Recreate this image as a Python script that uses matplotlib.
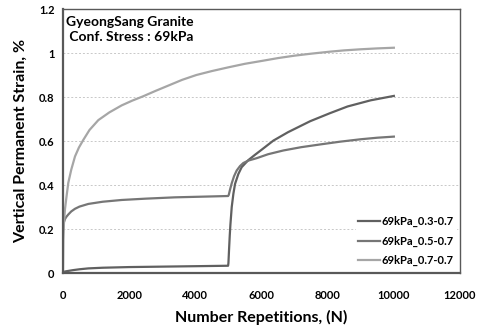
import matplotlib
matplotlib.use("Agg")
import matplotlib.pyplot as plt

plt.rcParams["font.family"] = ["Lato", "DejaVu Sans"]

# 69kPa_0.3-0.7 (low first stage, steep rise after 5000 cycles)
n_03 = [0, 100, 300, 500, 766, 1200, 2000, 3000, 4000, 4990, 5000, 5020, 5040, 5060,
        5100, 5150, 5200, 5300, 5400, 5600, 5800, 6000, 6360, 6800, 7470, 8060, 8600,
        9300, 10000]
s_03 = [0.005, 0.008, 0.013, 0.017, 0.021, 0.024, 0.027, 0.029, 0.031, 0.033, 0.045,
        0.11, 0.17, 0.22, 0.30, 0.36, 0.405, 0.45, 0.481, 0.513, 0.537, 0.56, 0.602,
        0.64, 0.69, 0.726, 0.757, 0.785, 0.805]

# 69kPa_0.5-0.7
n_05 = [0, 10, 30, 60, 100, 160, 250, 363, 500, 766, 1200, 1774, 2500, 3386, 4200,
        4990, 5010, 5050, 5100, 5170, 5250, 5350, 5450, 5600, 5855, 6200, 6660, 7200,
        7800, 8375, 9000, 9500, 10000]
s_05 = [0.20, 0.215, 0.232, 0.245, 0.255, 0.266, 0.28, 0.292, 0.302, 0.314, 0.324,
        0.332, 0.338, 0.344, 0.347, 0.35, 0.355, 0.38, 0.408, 0.44, 0.466, 0.486, 0.50,
        0.511, 0.522, 0.54, 0.557, 0.572, 0.585, 0.597, 0.608, 0.615, 0.62]

# 69kPa_0.7-0.7
n_07 = [0, 10, 30, 60, 100, 160, 250, 363, 480, 614, 800, 1068, 1400, 1774, 2100,
        2418, 2800, 3200, 3600, 4030, 4500, 5000, 5500, 6045, 6500, 7000, 7500, 8060,
        8500, 9000, 9500, 10000]
s_07 = [0.0, 0.15, 0.23, 0.29, 0.34, 0.41, 0.47, 0.53, 0.57, 0.605, 0.65, 0.695, 0.73,
        0.762, 0.784, 0.803, 0.828, 0.853, 0.878, 0.9, 0.918, 0.935, 0.951, 0.965,
        0.977, 0.988, 0.997, 1.006, 1.012, 1.017, 1.021, 1.024]

labels = ["69kPa_0.3-0.7", "69kPa_0.5-0.7", "69kPa_0.7-0.7"]
colors = ["#606060", "#767676", "#a6a6a6"]

x_ticks = [0, 2000, 4000, 6000, 8000, 10000, 12000]
y_ticks = [0, 0.2, 0.4, 0.6, 0.8, 1, 1.2]
y_tick_labels = ["0", "0.2", "0.4", "0.6", "0.8", "1", "1.2"]

fig = plt.figure(figsize=(4.82, 3.34), dpi=100)
ax = fig.add_axes([0.1307, 0.1826, 0.8237, 0.7904])

for n, s, lab, c in zip([n_03, n_05, n_07], [s_03, s_05, s_07], labels, colors):
    ax.plot(n, s, color=c, linewidth=1.6, label=lab, solid_joinstyle="round")

ax.set_xlim(0, 12000)
ax.set_ylim(0, 1.2)
ax.set_xticks(x_ticks)
ax.set_yticks(y_ticks)
ax.set_yticklabels(y_tick_labels)
ax.tick_params(axis="both", length=0, labelsize=8, pad=6)
ax.tick_params(axis="x", pad=12)
for lbl in ax.get_xticklabels() + ax.get_yticklabels():
    lbl.set_fontweight("bold")

ax.yaxis.grid(True, linestyle=(0, (2, 2)), color="#c8c8c8", linewidth=0.7)
ax.set_axisbelow(True)
for sp in ax.spines.values():
    sp.set_color("#595959")
    sp.set_linewidth(1.0)
    sp.set_zorder(6)
ax.spines["left"].set_linewidth(1.6)
ax.spines["bottom"].set_linewidth(1.6)

ax.set_xlabel("Number Repetitions, (N)", fontsize=11.5, fontweight="bold", labelpad=7)
ax.set_ylabel("Vertical Permanent Strain, %", fontsize=11.5, fontweight="bold", labelpad=8)

ax.text(0.008, 0.975, "GyeongSang Granite\n Conf. Stress : 69kPa", transform=ax.transAxes,
        fontsize=10, fontweight="bold", va="top", ha="left", linespacing=1.3)

leg = ax.legend(loc="lower right", frameon=True, handlelength=2.0,
                handletextpad=0.1, labelspacing=0.75, borderaxespad=0.4, borderpad=0.2,
                prop={"weight": "bold", "size": 8})
leg.get_frame().set_edgecolor("white")
leg.get_frame().set_facecolor("white")
leg.get_frame().set_alpha(1.0)

fig.savefig("out.png", dpi=100)
